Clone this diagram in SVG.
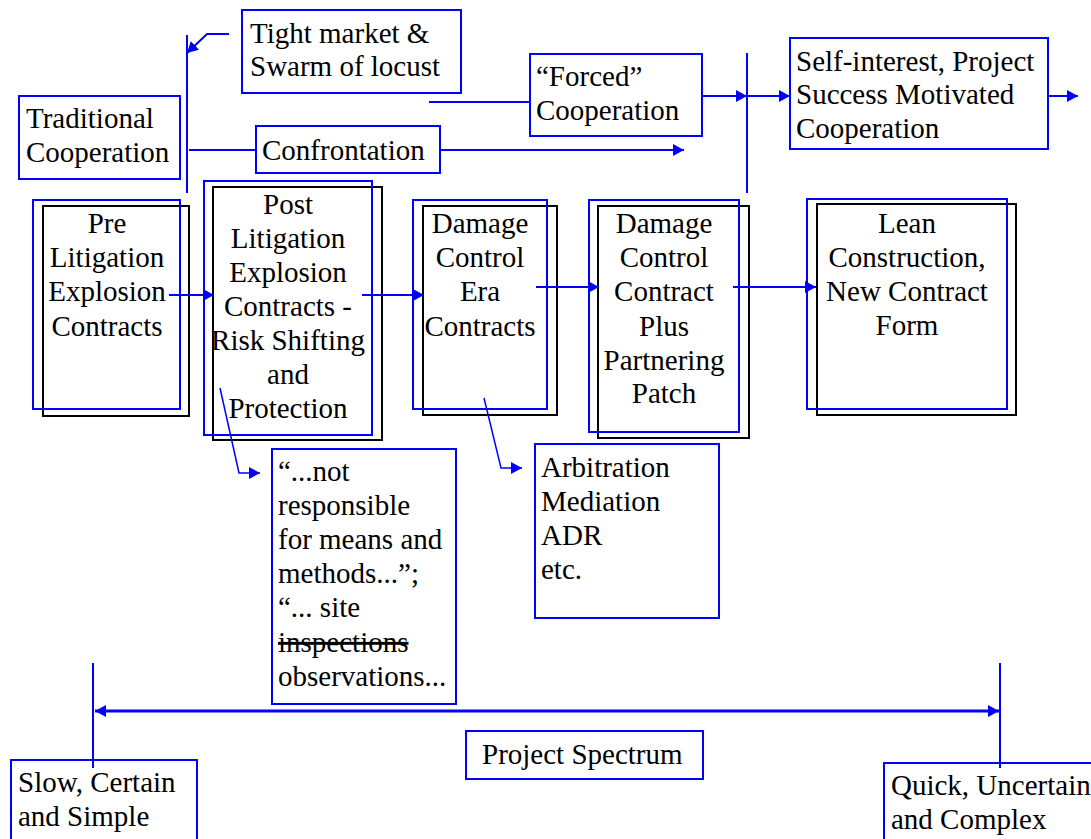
<svg xmlns="http://www.w3.org/2000/svg" width="1091" height="839" viewBox="0 0 1091 839">
<style>
text{font-family:"Liberation Serif","Times New Roman",serif;font-size:29px;fill:#000}
.c{text-anchor:middle}
.bb{fill:none;stroke:#0000ff;stroke-width:2}
.kb{fill:#fff;stroke:#000;stroke-width:2}
.ln{fill:none;stroke:#0000ff;stroke-width:2}
.lt{fill:none;stroke:#0000ff;stroke-width:1.5}
.ar{marker-end:url(#ah)}
</style>
<defs>
<marker id="ah" markerUnits="userSpaceOnUse" markerWidth="11" markerHeight="12" refX="11" refY="6" orient="auto">
<path d="M0,0 L11,6 L0,12 z" fill="#0000ff"/>
</marker>
<marker id="ahs" markerUnits="userSpaceOnUse" markerWidth="11" markerHeight="12" refX="11" refY="6" orient="auto-start-reverse">
<path d="M0,0 L11,6 L0,12 z" fill="#0000ff"/>
</marker>
</defs>
<rect width="1091" height="839" fill="#fff"/>

<g id="tight">
<rect class="bb" x="242" y="10" width="219" height="83"/>
<text x="250" y="43">Tight market &amp;</text>
<text x="250" y="76">Swarm of locust</text>
</g>
<g id="traditional">
<rect class="bb" x="19" y="96" width="161" height="83"/>
<text x="26" y="128">Traditional</text>
<text x="26" y="162">Cooperation</text>
</g>
<g id="confrontation">
<rect class="bb" x="256" y="126" width="184" height="47"/>
<text x="262" y="160">Confrontation</text>
</g>
<g id="forced">
<rect class="bb" x="530" y="54" width="172" height="82"/>
<text x="536" y="86">“Forced”</text>
<text x="536" y="120">Cooperation</text>
</g>
<g id="selfinterest">
<rect class="bb" x="790" y="38" width="258" height="111"/>
<text x="796" y="71">Self-interest, Project</text>
<text x="796" y="104">Success Motivated</text>
<text x="796" y="138">Cooperation</text>
</g>

<g id="pre">
<rect class="kb" x="43" y="206" width="146" height="210"/>
<rect class="bb" x="33" y="200" width="147" height="209"/>
<text class="c" x="107" y="233">Pre</text>
<text class="c" x="107" y="267">Litigation</text>
<text class="c" x="107" y="301">Explosion</text>
<text class="c" x="107" y="336">Contracts</text>
</g>
<g id="post">
<rect class="kb" x="213" y="187" width="169" height="253"/>
<rect class="bb" x="204" y="181" width="168" height="254"/>
<text class="c" x="288" y="214">Post</text>
<text class="c" x="288" y="248">Litigation</text>
<text class="c" x="288" y="282">Explosion</text>
<text class="c" x="288" y="316">Contracts -</text>
<text class="c" x="288" y="350">Risk Shifting</text>
<text class="c" x="288" y="384">and</text>
<text class="c" x="288" y="418">Protection</text>
</g>
<g id="era">
<rect class="kb" x="423" y="206" width="134" height="209"/>
<rect class="bb" x="413" y="200" width="134" height="209"/>
<text class="c" x="480" y="233">Damage</text>
<text class="c" x="480" y="267">Control</text>
<text class="c" x="480" y="301">Era</text>
<text class="c" x="480" y="336">Contracts</text>
</g>
<g id="dcc">
<rect class="kb" x="598" y="206" width="151" height="232"/>
<rect class="bb" x="589" y="200" width="150" height="232"/>
<text class="c" x="664" y="233">Damage</text>
<text class="c" x="664" y="267">Control</text>
<text class="c" x="664" y="301">Contract</text>
<text class="c" x="664" y="336">Plus</text>
<text class="c" x="664" y="370">Partnering</text>
<text class="c" x="664" y="403">Patch</text>
</g>
<g id="lean">
<rect class="kb" x="817" y="204" width="199" height="211"/>
<rect class="bb" x="807" y="199" width="200" height="210"/>
<text class="c" x="907" y="233">Lean</text>
<text class="c" x="907" y="267">Construction,</text>
<text class="c" x="907" y="301">New Contract</text>
<text class="c" x="907" y="335">Form</text>
</g>

<g id="quote">
<rect class="bb" x="272" y="449" width="184" height="255"/>
<text x="278" y="481">“...not</text>
<text x="278" y="515">responsible</text>
<text x="278" y="549">for means and</text>
<text x="278" y="583">methods...”;</text>
<text x="278" y="617">“... site</text>
<text x="278" y="652" text-decoration="line-through">inspections</text>
<text x="278" y="686">observations...</text>
</g>
<g id="adr">
<rect class="bb" x="535" y="444" width="184" height="174"/>
<text x="541" y="477">Arbitration</text>
<text x="541" y="511">Mediation</text>
<text x="541" y="545">ADR</text>
<text x="541" y="579">etc.</text>
</g>

<g id="spectrum">
<rect class="bb" x="466" y="731" width="237" height="48"/>
<text x="482" y="764">Project Spectrum</text>
</g>
<g id="slow">
<rect class="bb" x="11" y="760" width="186" height="90"/>
<text x="18" y="792">Slow, Certain</text>
<text x="18" y="826">and Simple</text>
</g>
<g id="quick">
<rect class="bb" x="884" y="763" width="220" height="90"/>
<text x="891" y="795">Quick, Uncertain</text>
<text x="891" y="829">and Complex</text>
</g>

<g id="connectors">
<polyline class="ln ar" points="229,34 207,34 187,53"/>
<line class="ln" x1="187" y1="35" x2="187" y2="193"/>
<line class="ln" x1="189" y1="150" x2="256" y2="150"/>
<line class="ln ar" x1="440" y1="150" x2="684" y2="150"/>
<line class="ln" x1="429" y1="102" x2="530" y2="102"/>
<line class="ln ar" x1="702" y1="96" x2="747" y2="96"/>
<line class="ln" x1="747" y1="53" x2="747" y2="193"/>
<line class="ln ar" x1="747" y1="96" x2="790" y2="96"/>
<line class="ln ar" x1="1048" y1="96" x2="1078" y2="96"/>
<line class="ln ar" x1="169" y1="295" x2="214" y2="295"/>
<line class="ln ar" x1="362" y1="295" x2="424" y2="295"/>
<line class="ln ar" x1="536" y1="287" x2="599" y2="287"/>
<line class="ln ar" x1="733" y1="287" x2="816" y2="287"/>
<polyline class="lt ar" points="220,388 239,473 260,473"/>
<polyline class="lt ar" points="484,398 501,468 522,468"/>
<line class="ln" x1="93" y1="663" x2="93" y2="768"/>
<line class="ln" x1="1000" y1="663" x2="1000" y2="768"/>
<line x1="95" y1="711" x2="999" y2="711" stroke="#0000ff" stroke-width="3" marker-start="url(#ahs)" marker-end="url(#ahs)"/>
</g>
</svg>
